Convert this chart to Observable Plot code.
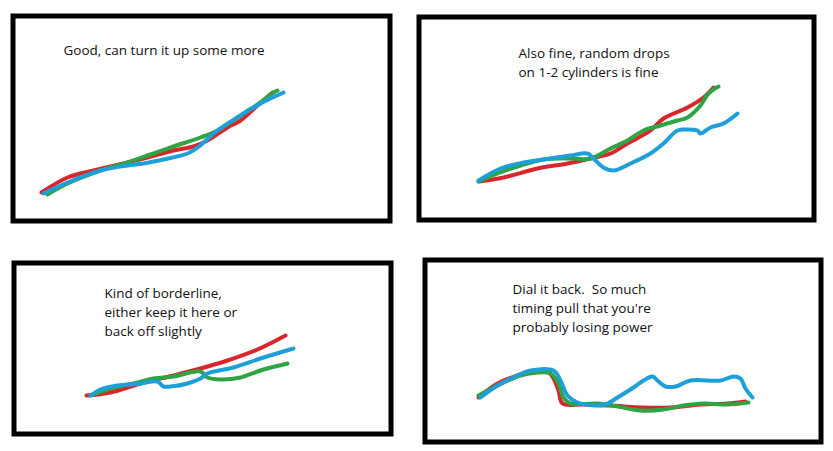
<!DOCTYPE html>
<html>
<head>
<meta charset="utf-8">
<script src="https://cdn.jsdelivr.net/npm/d3@7"></script>
<script src="https://cdn.jsdelivr.net/npm/@observablehq/plot@0.6"></script>
<style>
  html, body { margin: 0; padding: 0; background: #fff; }
  #wrap { position: relative; width: 833px; height: 451px; background: #fff; overflow: hidden; }
  #wrap svg { position: absolute; }
</style>
</head>
<body>
<div id="wrap"></div>
<script>
// Panel notes (text lines)
const notes1 = ["Good, can turn it up some more"];
const notes2 = ["Also fine, random drops", "on 1-2 cylinders is fine"];
const notes3 = ["Kind of borderline,", "either keep it here or", "back off slightly"];
const notes4 = ["Dial it back.  So much", "timing pull that you're", "probably losing power"];

// Series names
const seriesNames = ["series 1", "series 2", "series 3"];
const seriesColors = ["#d9262c", "#2ea444", "#1d9fda"];

// Panel 1 series [x, y]
const p1Red   = [[41,192],[67,177],[93,170],[123,163],[147,157],[173,150],[193,146],[207,140],[227,127],[240,120],[257,105],[272,92]];
const p1Green = [[47,194],[67,183],[100,170],[127,162],[150,154],[173,146],[200,137],[217,130],[243,113],[260,102],[273,92],[277,90]];
const p1Blue  = [[43,193],[67,182],[100,170],[127,165],[143,163],[163,159],[187,153],[197,147],[217,130],[243,113],[260,103],[283,92]];

// Panel 2 series
const p2Red   = [[478,181],[503,177],[537,168],[567,163],[590,158],[610,153],[627,143],[650,130],[663,118],[687,107],[703,97],[713,87]];
const p2Green = [[478,181],[497,173],[520,165],[543,159],[567,158],[590,158],[610,148],[627,140],[643,130],[660,125],[677,120],[687,117],[700,105],[708,93],[718,86]];
const p2Blue  = [[478,180],[500,168],[523,162],[550,158],[570,155],[587,153],[593,158],[603,167],[613,170],[630,163],[650,153],[663,143],[677,130],[687,129],[697,130],[700,133],[710,127],[723,123],[737,113]];

// Panel 3 series
const p3Red   = [[86,395],[110,392],[140,383],[173,375],[200,368],[227,360],[257,349],[285,335]];
const p3Green = [[90,395],[110,388],[133,383],[153,378],[173,376],[200,371],[207,377],[220,379],[240,377],[260,370],[287,363]];
const p3Blue  = [[90,395],[100,389],[117,385],[140,383],[157,381],[163,386],[170,386],[187,383],[200,378],[207,373],[233,367],[260,358],[293,348]];

// Panel 4 series
const p4Red   = [[478,397],[497,383],[517,375],[530,371],[547,371],[553,378],[558,390],[562,403],[583,404],[610,405],[643,407],[670,407],[700,404],[727,403],[745,401]];
const p4Green = [[478,395],[497,385],[520,375],[537,372],[550,373],[558,383],[563,397],[570,403],[597,403],[617,406],[640,410],[663,409],[683,405],[703,403],[727,404],[748,402]];
const p4Blue  = [[480,397],[497,385],[517,375],[530,370],[553,370],[560,380],[567,395],[577,402],[597,405],[605,404],[617,397],[633,387],[643,380],[652,376],[657,380],[665,386],[675,386],[690,380],[720,380],[733,376],[740,378],[745,388],[752,397]];

const panels = [
  {box: [10, 13, 392, 223], notes: notes1, noteX: 63, noteY: 50, series: [p1Red, p1Green, p1Blue]},
  {box: [416, 14, 816, 222], notes: notes2, noteX: 518, noteY: 53, series: [p2Red, p2Green, p2Blue]},
  {box: [11, 260, 393, 436], notes: notes3, noteX: 104, noteY: 293, series: [p3Red, p3Green, p3Blue]},
  {box: [422, 257, 823, 444], notes: notes4, noteX: 512, noteY: 289, series: [p4Red, p4Green, p4Blue]}
];

const wrap = document.getElementById("wrap");
const lineGap = 19;

for (const p of panels) {
  const [x0, y0, x1, y1] = p.box;
  const W = x1 - x0, H = y1 - y0;
  const rows = [];
  p.series.forEach((s, i) => s.forEach(([x, y]) => rows.push({series: seriesNames[i], x, y})));
  const textRows = p.notes.map((t, i) => ({text: t, x: p.noteX, y: p.noteY + i * lineGap}));
  const chart = Plot.plot({
    width: W,
    height: H,
    margin: 0,
    style: {background: "transparent", overflow: "visible"},
    x: {domain: [x0, x1], axis: null},
    y: {domain: [y0, y1], reverse: true, axis: null},
    color: {type: "ordinal", domain: seriesNames, range: seriesColors},
    marks: [
      Plot.frame({stroke: "#000", strokeWidth: 5, inset: 2.5}),
      Plot.line(rows, {x: "x", y: "y", z: "series", stroke: "series", strokeWidth: 4, curve: "catmull-rom", strokeLinecap: "round", strokeLinejoin: "round"}),
      Plot.text(textRows, {x: "x", y: "y", text: "text", textAnchor: "start", fill: "#111", fontSize: 13.5, fontFamily: "'Open Sans', sans-serif"})
    ]
  });
  chart.style.left = x0 + "px";
  chart.style.top = y0 + "px";
  wrap.appendChild(chart);
}
</script>
</body>
</html>
